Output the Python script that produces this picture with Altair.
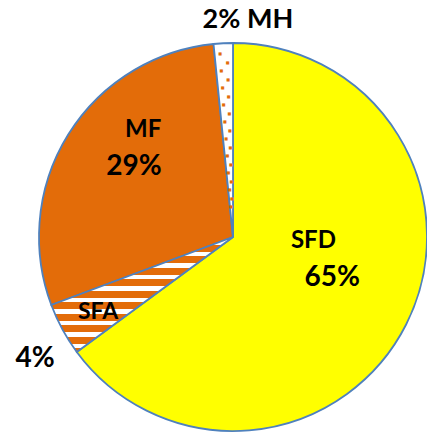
import math
import altair as alt
import pandas as pd

# ---- data ----
categories = ["SFD", "SFA", "MF", "MH"]
values = [64.9, 4.4, 29.1, 1.6]          # slice sizes (percent)
pct_labels = ["65%", "4%", "29%", "2%"]  # labels as printed

starts, ends = [], []
acc = 0.0
for v in values:
    starts.append(acc)
    acc += v
    ends.append(acc)
df = pd.DataFrame({
    "cat": categories,
    "value": values,
    "start": starts,
    "end": ends,
    "mid": [(s + e) / 2 for s, e in zip(starts, ends)],
    "pct": pct_labels,
})

# ---- style ----
CX, CY, R = 233, 237, 194
YELLOW = "#FFFF00"
ORANGE = "#E36C09"
EDGE = "#4F81BD"
FONT = "Lato"
TAU = 2 * math.pi
theta_scale = alt.Scale(domain=[0, 100], range=[0, TAU])

# horizontal stripe gradient (pattern imitation) for SFA
period, white_w, phase, bbox_h = 11.5, 4.6, 5.5, 115.0
stops = [alt.GradientStop(offset=0, color=ORANGE)]
c = phase
while c - white_w / 2 < bbox_h:
    a = max(0.0, (c - white_w / 2) / bbox_h)
    b = min(1.0, (c + white_w / 2) / bbox_h)
    stops += [alt.GradientStop(offset=a, color=ORANGE),
              alt.GradientStop(offset=a, color="white"),
              alt.GradientStop(offset=b, color="white"),
              alt.GradientStop(offset=b, color=ORANGE)]
    c += period
stops.append(alt.GradientStop(offset=1, color=ORANGE))
stripes = alt.LinearGradient(gradient="linear", stops=stops, x1=0, x2=0, y1=0, y2=1)

base = alt.Chart(df)
pos = dict(x=alt.value(CX), y=alt.value(CY))
theta_enc = dict(theta=alt.Theta("start:Q", scale=theta_scale),
                 theta2=alt.Theta2("end:Q"))

solid = base.transform_filter(
    alt.FieldOneOfPredicate(field="cat", oneOf=["SFD", "MF"])
).mark_arc(outerRadius=R, stroke=EDGE, strokeWidth=1.8).encode(
    color=alt.Color("cat:N", scale=alt.Scale(domain=["SFD", "MF"], range=[YELLOW, ORANGE]), legend=None),
    **theta_enc, **pos)

sfa = base.transform_filter(alt.datum.cat == "SFA").mark_arc(
    outerRadius=R, fill=stripes, stroke=EDGE, strokeWidth=1.8).encode(**theta_enc, **pos)

mh = base.transform_filter(alt.datum.cat == "MH").mark_arc(
    outerRadius=R, fill="white", stroke=EDGE, strokeWidth=1.8).encode(**theta_enc, **pos)

# dotted pattern inside the MH slice
mh_i = categories.index("MH")
dots = []
r, k = 30, 0
while r < R - 4:
    frac = 0.3 if k % 2 == 0 else 0.7
    dots.append({"t": starts[mh_i] + frac * values[mh_i], "r": r})
    r += 8.5
    k += 1
dots_df = pd.DataFrame(dots)
dot_layer = alt.Chart(dots_df).mark_text(
    text="■", fontSize=4, color=ORANGE, align="center", baseline="middle", font="DejaVu Sans"
).encode(theta=alt.Theta("t:Q", scale=theta_scale),
         radius=alt.Radius("r:Q", scale=None), **pos)


def label(cat, field, radius, dx, dy, size, prefix="", suffix=""):
    return base.transform_filter(alt.datum.cat == cat).transform_calculate(
        lab=f"'{prefix}' + datum.{field} + '{suffix}'"
    ).mark_text(
        radius=radius, dx=dx, dy=dy, fontSize=size, font=FONT, fontWeight="bold",
        color="black", align="center", baseline="middle"
    ).encode(theta=alt.Theta("mid:Q", scale=theta_scale), text="lab:N", **pos)


labels = [
    label("SFD", "cat", 80, 9, -32, 24),
    label("SFD", "pct", 100, 10, -4, 28),
    label("SFA", "cat", 150, -3, 4, 23),
    label("SFA", "pct", 225, 0, 15, 28),
    label("MF", "cat", 140, 29, -33, 24),
    label("MF", "pct", 120, 3, -7, 28),
    label("MH", "pct", 220, 26, 3, 27, suffix=" MH"),
]

chart = alt.layer(solid, sfa, mh, dot_layer, *labels).properties(
    width=427, height=435, padding=0, autosize="none", background="white"
).configure_view(stroke=None)

chart.save("out.html", embed_options={"renderer": "svg", "actions": False})
